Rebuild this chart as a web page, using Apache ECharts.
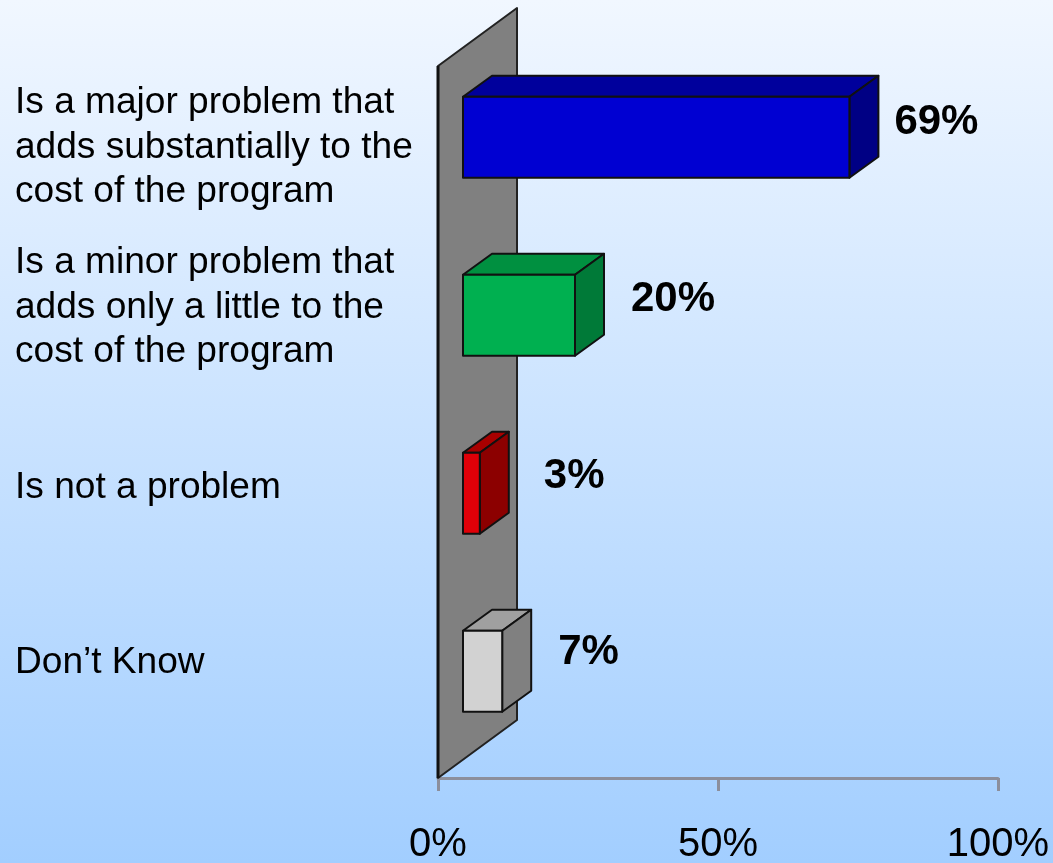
<!DOCTYPE html>
<html><head><meta charset="utf-8">
<style>html,body{margin:0;padding:0;background:#cfe4ff}#c{width:1053px;height:863px}</style>
<script src="https://cdn.jsdelivr.net/npm/echarts@6/dist/echarts.min.js"></script>
</head><body><div id="c"></div>
<script>
const categories = ["Is a major problem that\nadds substantially to the\ncost of the program","Is a minor problem that\nadds only a little to the\ncost of the program","Is not a problem","Don\u2019t Know"];
const values = [69, 20, 3, 7];
const frontColors = ["#0000d2","#00b050","#e00008","#d2d2d2"];
const topColors = ["#00009c","#009040","#a80000","#a0a0a0"];
const sideColors = ["#000084","#007a38","#8c0000","#808080"];
const labelGaps = [16, 27, 35, 27];
const labelRaises = [-15, -16, -17, -19];
const categoryNudges = [10.5, -7.5, -5.5, -8.5];
const xTicks = {min: 0, max: 100, interval: 50};

const FONT = '"Liberation Sans", Arial, sans-serif';
const LEFT = 438, WIDTH = 560, BAND = 178;
const AXIS_Y = 778, GRID_TOP = 48.25;
const GRID_BOTTOM = 863 - (GRID_TOP + 4 * BAND);
const WALL_DX = 79, WALL_DY = 58, WALL_Z = AXIS_Y - GRID_TOP - 4 * BAND;
const BAR_INSET = 25, BAR_H = 81, BAR_DX = 29, BAR_DY = 21;
const INK = "#111";

function poly(points, fill, stroke, w) {
  return {type: "polygon", shape: {points}, style: {fill, stroke: stroke || INK, lineWidth: w || 2, lineJoin: "round"}};
}

function renderWall(params, api) {
  const cs = params.coordSys;
  const x = cs.x, yTop = cs.y + WALL_Z, yBot = cs.y + cs.height + WALL_Z;
  return {type: "group", children: [
    poly([[x, yTop], [x + WALL_DX, yTop - WALL_DY], [x + WALL_DX, yBot - WALL_DY], [x, yBot]], "#808080", "#222", 2),
    {type: "line", shape: {x1: x, y1: yTop, x2: x, y2: yBot}, style: {stroke: "#111", lineWidth: 3}}
  ]};
}

function renderBar(params, api) {
  const i = api.value(1);
  const v = api.value(0);
  const zero = api.coord([0, i]);
  const end = api.coord([v, i]);
  const x0 = zero[0] + BAR_INSET, x1 = end[0] + BAR_INSET;
  const y0 = zero[1] - BAR_H / 2, y1 = zero[1] + BAR_H / 2;
  const dx = BAR_DX, dy = BAR_DY;
  return {type: "group", children: [
    poly([[x0, y0], [x0 + dx, y0 - dy], [x1 + dx, y0 - dy], [x1, y0]], topColors[i]),
    poly([[x1, y0], [x1 + dx, y0 - dy], [x1 + dx, y1 - dy], [x1, y1]], sideColors[i]),
    poly([[x0, y0], [x1, y0], [x1, y1], [x0, y1]], frontColors[i]),
    {type: "text", x: x1 + dx + labelGaps[i], y: zero[1] + labelRaises[i],
      style: {text: v + "%", font: "bold 42px " + FONT, fill: "#000", align: "left", verticalAlign: "middle"}}
  ]};
}

function renderCategory(params, api) {
  const i = api.value(1);
  const p = api.coord([0, i]);
  return {type: "text", x: 15, y: p[1] + categoryNudges[i],
    style: {text: categories[i], font: "37.1px " + FONT, lineHeight: 44.5, fill: "#000", align: "left", verticalAlign: "middle"}};
}

const chart = echarts.init(document.getElementById("c"), null, {renderer: "canvas", width: 1053, height: 863});
const rows = values.map((v, i) => [v, i]);
chart.setOption({
  animation: false,
  backgroundColor: {type: "linear", x: 0, y: 0, x2: 0, y2: 1, colorStops: [
    {offset: 0, color: "#f1f7ff"}, {offset: 1, color: "#a2ceff"}]},
  grid: {left: LEFT, width: WIDTH, top: GRID_TOP, bottom: GRID_BOTTOM, containLabel: false, outerBoundsMode: "none"},
  xAxis: {type: "value", min: xTicks.min, max: xTicks.max, interval: xTicks.interval, offset: WALL_Z,
    splitLine: {show: false},
    axisLine: {show: true, lineStyle: {color: "#8c8f9c", width: 3}},
    axisTick: {show: true, length: 13, lineStyle: {color: "#8c8f9c", width: 3}},
    axisLabel: {formatter: "{value}%", color: "#000", fontFamily: FONT, fontSize: 40, margin: 47, hideOverlap: false}},
  yAxis: {type: "category", inverse: true, data: categories, show: false},
  series: [
    {type: "custom", name: "wall", coordinateSystem: "cartesian2d", data: [[0, 0]], renderItem: renderWall, silent: true, z: 1},
    {type: "custom", name: "share", coordinateSystem: "cartesian2d", data: rows, renderItem: renderBar, encode: {x: 0, y: 1}, clip: false, z: 3},
    {type: "custom", name: "categories", coordinateSystem: "cartesian2d", data: rows, renderItem: renderCategory, encode: {x: 0, y: 1}, clip: false, silent: true, z: 4}
  ]
});
</script></body></html>
